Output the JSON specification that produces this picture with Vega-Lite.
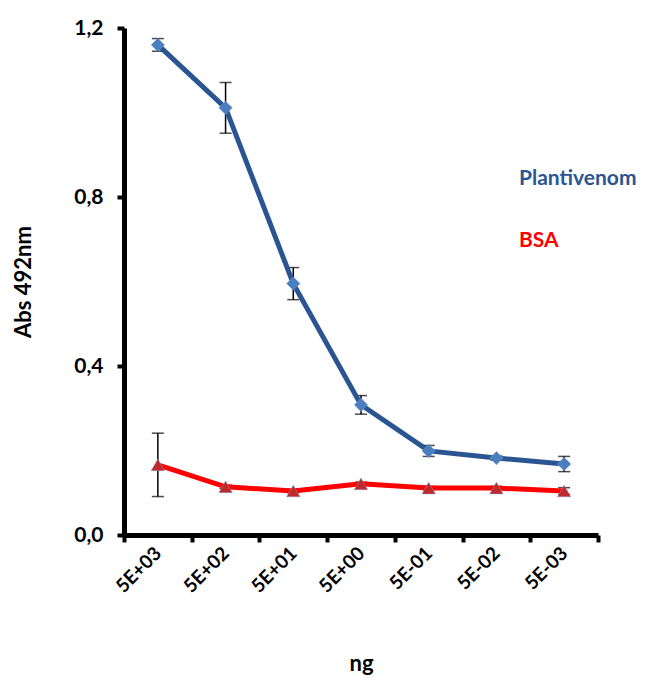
{
  "$schema": "https://vega.github.io/schema/vega-lite/v6.json",
  "width": 474,
  "height": 507,
  "autosize": {"type": "none"},
  "padding": {"left": 124, "top": 28, "right": 57, "bottom": 151},
  "background": "white",
  "config": {
    "view": {"stroke": null},
    "font": "Lato",
    "axis": {
      "domainColor": "black",
      "domainWidth": 5,
      "tickColor": "black",
      "tickWidth": 4,
      "tickSize": 7,
      "grid": false,
      "labelFont": "Lato",
      "labelFontWeight": "bold",
      "labelColor": "black",
      "titleFont": "Lato",
      "titleFontWeight": "bold",
      "titleColor": "black"
    }
  },
  "data": {
    "values": [
      {"conc": "5E+03", "series": "Plantivenom", "value": 1.160, "err": 0.015},
      {"conc": "5E+02", "series": "Plantivenom", "value": 1.011, "err": 0.060},
      {"conc": "5E+01", "series": "Plantivenom", "value": 0.595, "err": 0.038},
      {"conc": "5E+00", "series": "Plantivenom", "value": 0.308, "err": 0.022},
      {"conc": "5E-01", "series": "Plantivenom", "value": 0.199, "err": 0.013},
      {"conc": "5E-02", "series": "Plantivenom", "value": 0.182, "err": 0.005},
      {"conc": "5E-03", "series": "Plantivenom", "value": 0.168, "err": 0.018},
      {"conc": "5E+03", "series": "BSA", "value": 0.166, "err": 0.075},
      {"conc": "5E+02", "series": "BSA", "value": 0.114, "err": 0.004},
      {"conc": "5E+01", "series": "BSA", "value": 0.104, "err": 0.004},
      {"conc": "5E+00", "series": "BSA", "value": 0.121, "err": 0.004},
      {"conc": "5E-01", "series": "BSA", "value": 0.111, "err": 0.004},
      {"conc": "5E-02", "series": "BSA", "value": 0.111, "err": 0.004},
      {"conc": "5E-03", "series": "BSA", "value": 0.104, "err": 0.008}
    ]
  },
  "encoding": {
    "x": {
      "field": "conc",
      "type": "ordinal",
      "sort": null,
      "scale": {"type": "band", "paddingInner": 0, "paddingOuter": 0},
      "axis": {
        "title": "ng",
        "titleFontSize": 22,
        "titlePadding": 58,
        "labelAngle": -45,
        "labelAlign": "right",
        "labelBaseline": "middle",
        "labelFontSize": 19,
        "labelPadding": 8,
        "tickBand": "extent"
      }
    },
    "y": {
      "field": "value",
      "type": "quantitative",
      "scale": {"domain": [0, 1.2], "nice": false},
      "axis": {
        "title": "Abs 492nm",
        "titleFontSize": 22,
        "titlePadding": 38,
        "values": [0, 0.4, 0.8, 1.2],
        "labelExpr": "replace(format(datum.value, '.1f'), '.', ',')",
        "labelFontSize": 21,
        "labelPadding": 14
      }
    }
  },
  "layer": [
    {
      "mark": {"type": "errorbar", "ticks": {"size": 12, "color": "black", "thickness": 1.5}, "rule": {"color": "black", "strokeWidth": 1.5}},
      "encoding": {
        "y": {"field": "value", "type": "quantitative", "title": "Abs 492nm"},
        "yError": {"field": "err"},
        "detail": {"field": "series"}
      }
    },
    {
      "mark": {"type": "line", "strokeWidth": 5},
      "encoding": {
        "color": {
          "field": "series",
          "type": "nominal",
          "scale": {"domain": ["Plantivenom", "BSA"], "range": ["#2b5592", "#ff0000"]},
          "legend": {
            "orient": "none",
            "legendX": 374,
            "legendY": 140,
            "title": null,
            "symbolSize": 0,
            "symbolOpacity": 0,
            "symbolStrokeWidth": 0,
            "labelFontSize": 21,
            "labelFont": "Lato",
            "labelFontWeight": "bold",
            "labelOffset": 0,
            "rowPadding": 40,
            "encode": {
              "labels": {"update": {"fill": {"scale": "color", "field": "value"}}}
            }
          }
        }
      }
    },
    {
      "mark": {"type": "point", "filled": true, "size": 180, "opacity": 1, "stroke": "#7a9fd0", "strokeWidth": 0.5},
      "encoding": {
        "shape": {
          "field": "series",
          "type": "nominal",
          "scale": {"domain": ["Plantivenom", "BSA"], "range": ["diamond", "triangle-up"]},
          "legend": null
        },
        "fill": {
          "field": "series",
          "type": "nominal",
          "scale": {"domain": ["Plantivenom", "BSA"], "range": ["#4a7ebf", "#c0282a"]},
          "legend": null
        }
      }
    }
  ]
}
